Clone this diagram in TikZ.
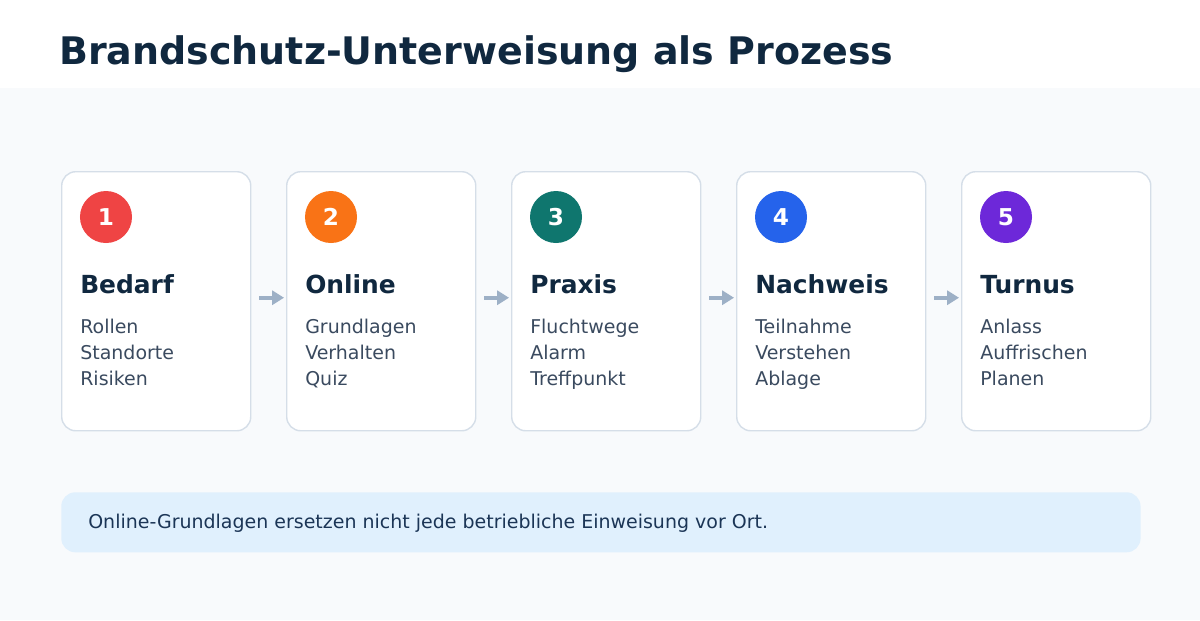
\documentclass[tikz,border=0pt]{standalone}
\usepackage{fontspec}
\setmainfont{DejaVu Sans}
\usetikzlibrary{arrows.meta}

\definecolor{titleblue}{HTML}{10283F}
\definecolor{pagegray}{HTML}{F8FAFC}
\definecolor{cardline}{HTML}{D5DEE8}
\definecolor{itemgray}{HTML}{3A4A5F}
\definecolor{arrowgray}{HTML}{9DB0C6}
\definecolor{notefill}{HTML}{E0F0FD}
\definecolor{notetext}{HTML}{1B3556}
\definecolor{stepred}{HTML}{EF4444}
\definecolor{steporange}{HTML}{F97316}
\definecolor{stepteal}{HTML}{0F766E}
\definecolor{stepblue}{HTML}{2563EB}
\definecolor{steppurple}{HTML}{6D28D9}

\tikzset{
  card/.style={draw=cardline, line width=1pt, fill=white, rounded corners=10pt,
    anchor=north west, inner sep=0pt, minimum width=4.725cm, minimum height=6.475cm},
  badge/.style={circle, inner sep=0pt, minimum size=1.3cm, text=white,
    font=\fontsize{16.5}{19}\selectfont\bfseries},
  heading/.style={anchor=base west, inner sep=0pt, text=titleblue,
    font=\fontsize{17.7}{20}\selectfont\bfseries},
  item/.style={anchor=base west, inner sep=0pt, text=itemgray,
    font=\fontsize{13.5}{16}\selectfont},
  flow/.style={draw=arrowgray, line width=2.8pt, shorten <=5.7pt, shorten >=1.4pt,
    -{Triangle[length=8.5pt,width=10pt]}}
}

\begin{document}
\begin{tikzpicture}[x=0.025cm, y=-0.025cm]

  % page
  \fill[white] (0,0) rectangle (1200,620);
  \fill[pagegray] (0,88) rectangle (1200,620);
  \useasboundingbox (0,0) rectangle (1200,620);

  \node[anchor=base west, inner sep=0pt, text=titleblue,
    font=\fontsize{27}{32}\selectfont\bfseries] (title) at (59,64)
    {Brandschutz-Unterweisung als Prozess};

  % cards
  \node[card] (c1) at (61,171)  {};
  \node[card] (c2) at (286,171) {};
  \node[card] (c3) at (511,171) {};
  \node[card] (c4) at (736,171) {};
  \node[card] (c5) at (961,171) {};

  % badges
  \node[badge, fill=stepred]    (n1) at (106,217) {1};
  \node[badge, fill=steporange] (n2) at (331,217) {2};
  \node[badge, fill=stepteal]   (n3) at (556,217) {3};
  \node[badge, fill=stepblue]   (n4) at (781,217) {4};
  \node[badge, fill=steppurple] (n5) at (1006,217) {5};

  % headings
  \node[heading] (h1) at (80,293)  {Bedarf};
  \node[heading] (h2) at (305,293) {Online};
  \node[heading] (h3) at (530,293) {Praxis};
  \node[heading] (h4) at (755,293) {Nachweis};
  \node[heading] (h5) at (980,293) {Turnus};

  % items
  \begin{scope}
    \node[item] (i11) at (80,333) {Rollen};
    \node[item] (i12) at (80,359) {Standorte};
    \node[item] (i13) at (80,385) {Risiken};
    \node[item] (i21) at (305,333) {Grundlagen};
    \node[item] (i22) at (305,359) {Verhalten};
    \node[item] (i23) at (305,385) {Quiz};
    \node[item] (i31) at (530,333) {Fluchtwege};
    \node[item] (i32) at (530,359) {Alarm};
    \node[item] (i33) at (530,385) {Treffpunkt};
    \node[item] (i41) at (755,333) {Teilnahme};
    \node[item] (i42) at (755,359) {Verstehen};
    \node[item] (i43) at (755,385) {Ablage};
    \node[item] (i51) at (980,333) {Anlass};
    \node[item] (i52) at (980,359) {Auffrischen};
    \node[item] (i53) at (980,385) {Planen};
  \end{scope}

  % flow
  \draw[flow] ([yshift=2.5pt]c1.east) -- ([yshift=2.5pt]c2.west);
  \draw[flow] ([yshift=2.5pt]c2.east) -- ([yshift=2.5pt]c3.west);
  \draw[flow] ([yshift=2.5pt]c3.east) -- ([yshift=2.5pt]c4.west);
  \draw[flow] ([yshift=2.5pt]c4.east) -- ([yshift=2.5pt]c5.west);

  % note
  \node[fill=notefill, rounded corners=10pt, anchor=north west, inner sep=0pt,
    minimum width=26.975cm, minimum height=1.5cm] (note) at (61,492) {};
  \node[anchor=base west, inner sep=0pt, text=notetext,
    font=\fontsize{13.5}{16}\selectfont] (notetext) at (88,528)
    {Online-Grundlagen ersetzen nicht jede betriebliche Einweisung vor Ort.};

\end{tikzpicture}
\end{document}
